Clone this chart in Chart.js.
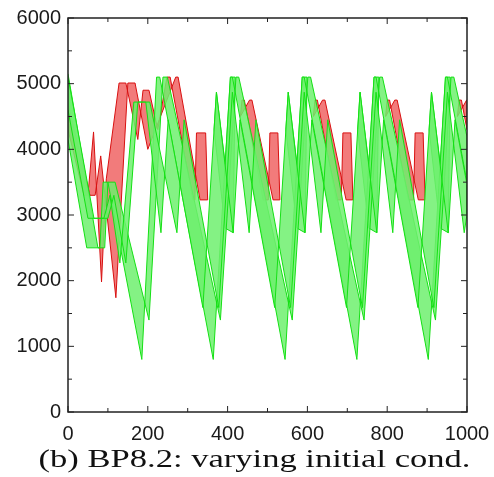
<!DOCTYPE html>
<html>
<head>
<meta charset="utf-8">
<script src="https://cdn.jsdelivr.net/npm/chart.js@4.4.1/dist/chart.umd.min.js"></script>
<style>
  body { margin: 0; background: #fff; }
  #wrap { position: relative; width: 494px; height: 477px; }
  #caption { position: absolute; left: 0; top: 446px; width: 508px; text-align: center;
             font: 26px "Liberation Serif", serif; line-height: 26px; color: #111; white-space: nowrap; }
  #caption span { display: inline-block; transform-origin: center; }
</style>
</head>
<body>
<div id="wrap">
  <canvas id="chart" width="494" height="477"></canvas>
  <div id="caption"><span>(b) BP8.2: varying initial cond.</span></div>
</div>
<script>
// axis ticks
var xTicks = [0, 200, 400, 600, 800, 1000];
var yTicks = [0, 1000, 2000, 3000, 4000, 5000, 6000];

// green: main band, edge A dips to ~800, edge B lags and dips to ~1400  ([time, value])
var greenMainA = [[0,4150],[47,2500],[80,2500],[88,3500],[100,3500],[185,800],[222,5100],[230,5100],[364,800],[407,5100],[412,5100],[544,800],[587,5100],[592,5100],[724,800],[767,5100],[772,5100],[903,800],[946,5100],[951,5100],[1000,3500]];
var greenMainB = [[0,5150],[75,2500],[92,2500],[100,3500],[118,3500],[203,1400],[238,5100],[249,5100],[382,1400],[421,5100],[428,5100],[562,1400],[601,5100],[608,5100],[742,1400],[781,5100],[788,5100],[921,1400],[960,5100],[967,5100],[1000,4190]];

// green: spiky band (peaks ~4870, dips ~2730 under the main peaks)
var greenSpikeA = [[0,4600],[50,2950],[90,2950],[105,3300],[130,2270],[165,4720],[195,4720],[233,2730],[251,4450],[338,1590],[372,4870],[414,2730],[431,4450],[518,1590],[552,4870],[594,2730],[611,4450],[698,1590],[732,4870],[774,2730],[791,4450],[877,1590],[911,4870],[953,2730],[970,4450],[1000,3460]];
var greenSpikeB = [[0,5100],[65,2950],[100,2950],[115,3300],[145,2270],[175,4720],[205,4720],[273,2730],[291,4450],[378,1590],[412,4870],[454,2730],[471,4450],[558,1590],[592,4870],[634,2730],[651,4450],[738,1590],[772,4870],[814,2730],[831,4450],[917,1590],[951,4870],[993,2730],[1000,3010]];

// green: region between each spike and the following peak, down to the ~2730 dip
var greenCap1A = [[366,4300],[372,4870],[394,3770],[407,5100],[419,5100]];
var greenCap1B = [[366,4300],[394,2800],[414,2730],[419,5100]];
var greenCap2A = [[546,4300],[552,4870],[574,3770],[587,5100],[599,5100]];
var greenCap2B = [[546,4300],[574,2800],[594,2730],[599,5100]];
var greenCap3A = [[726,4300],[732,4870],[754,3770],[767,5100],[779,5100]];
var greenCap3B = [[726,4300],[754,2800],[774,2730],[779,5100]];
var greenCap4A = [[905,4300],[911,4870],[933,3770],[946,5100],[958,5100]];
var greenCap4B = [[905,4300],[933,2800],[953,2730],[958,5100]];

// red band, visible pieces: start-up part, then plateau / fall / box for each cycle
var redStartA = [[0,4300],[40,3300],[50,3300],[64,4265],[84,1980],[96,3550],[128,5010],[145,5010],[175,4150],[188,4900],[203,4900],[225,4300],[248,5100],[256,5100],[313,3230],[318,3230],[322,4250],[345,4250],[350,3230]];
var redStartB = [[0,4700],[55,3300],[68,3300],[82,3900],[120,1740],[150,5010],[168,5010],[200,4000],[270,5100],[276,5100],[331,3230],[350,3230]];
var redCycle1A = [[432,4500],[436,4750],[442,4750],[489,3230],[502,3230],[506,4250],[526,4250],[531,3230]];
var redCycle1B = [[432,4500],[455,4750],[461,4750],[514,3230],[531,3230]];
var redCycle2A = [[615,4500],[619,4750],[625,4750],[672,3230],[685,3230],[689,4250],[709,4250],[714,3230]];
var redCycle2B = [[615,4500],[638,4750],[644,4750],[697,3230],[714,3230]];
var redCycle3A = [[796,4500],[800,4750],[806,4750],[853,3230],[866,3230],[870,4250],[890,4250],[895,3230]];
var redCycle3B = [[796,4500],[819,4750],[825,4750],[878,3230],[895,3230]];
var redCycle4A = [[976,4500],[980,4750],[986,4750],[1000,4300]];
var redCycle4B = [[976,4500],[999,4750],[1000,4750]];

var GREEN_FILL = 'rgba(110,240,110,0.85)';
var GREEN_LINE = '#14e014';
var RED_FILL = 'rgba(240,100,100,0.85)';
var RED_LINE = '#d81010';

// a band is drawn as one closed shape: edge A forward, edge B back
function band(edgeA, edgeB, fill, line, order) {
    var pts = edgeA.concat(edgeB.slice().reverse()).map(function (p) {
        return {x: p[0], y: p[1]};
    });
    return {
        data: pts,
        showLine: true,
        fill: 'shape',
        backgroundColor: fill,
        borderColor: line,
        borderWidth: 1,
        pointRadius: 0,
        tension: 0,
        order: order
    };
}

// frame with inward ticks on all four sides
var framePlugin = {
    id: 'frame',
    afterDraw: function (chart) {
        var ctx = chart.ctx, a = chart.chartArea, x = chart.scales.x, y = chart.scales.y;
        ctx.save();
        ctx.strokeStyle = '#222';
        ctx.lineWidth = 1.5;
        ctx.strokeRect(a.left, a.top, a.right - a.left, a.bottom - a.top);
        ctx.lineWidth = 1;
        ctx.beginPath();
        for (var v = 0; v <= 1000; v += 100) {
            var px = x.getPixelForValue(v), len = v % 200 ? 4 : 6;
            ctx.moveTo(px, a.bottom); ctx.lineTo(px, a.bottom - len);
            ctx.moveTo(px, a.top); ctx.lineTo(px, a.top + len);
        }
        for (var w = 0; w <= 6000; w += 500) {
            var py = y.getPixelForValue(w), l2 = w % 1000 ? 4 : 6;
            ctx.moveTo(a.left, py); ctx.lineTo(a.left + l2, py);
            ctx.moveTo(a.right, py); ctx.lineTo(a.right - l2, py);
        }
        ctx.stroke();
        ctx.restore();
    }
};

var tickFont = {family: '"Liberation Sans", Arial, sans-serif', size: 20};
var plain = function (v) { return String(v); };

new Chart(document.getElementById('chart'), {
    type: 'scatter',
    data: {
        datasets: [
            band(greenSpikeA, greenSpikeB, GREEN_FILL, GREEN_LINE, 0),
            band(greenMainA, greenMainB, GREEN_FILL, GREEN_LINE, 0),
            band(greenCap1A, greenCap1B, GREEN_FILL, GREEN_LINE, 0),
            band(greenCap2A, greenCap2B, GREEN_FILL, GREEN_LINE, 0),
            band(greenCap3A, greenCap3B, GREEN_FILL, GREEN_LINE, 0),
            band(greenCap4A, greenCap4B, GREEN_FILL, GREEN_LINE, 0),
            band(redStartA, redStartB, RED_FILL, RED_LINE, 1),
            band(redCycle1A, redCycle1B, RED_FILL, RED_LINE, 1),
            band(redCycle2A, redCycle2B, RED_FILL, RED_LINE, 1),
            band(redCycle3A, redCycle3B, RED_FILL, RED_LINE, 1),
            band(redCycle4A, redCycle4B, RED_FILL, RED_LINE, 1)
        ]
    },
    options: {
        responsive: false,
        animation: false,
        devicePixelRatio: 1,
        layout: {padding: {top: 18, right: 27, left: 0, bottom: 20}},
        plugins: {legend: {display: false}, tooltip: {enabled: false}},
        scales: {
            x: {
                type: 'linear', min: 0, max: 1000,
                afterBuildTicks: function (s) { s.ticks = xTicks.map(function (v) { return {value: v}; }); },
                afterFit: function (s) { s.height = 45; s.paddingLeft = 0; s.paddingRight = 0; },
                grid: {display: false, drawTicks: false}, border: {display: false},
                ticks: {font: tickFont, color: '#1a1a1a', padding: 10, maxRotation: 0, callback: plain}
            },
            y: {
                type: 'linear', min: 0, max: 6000,
                afterBuildTicks: function (s) { s.ticks = yTicks.map(function (v) { return {value: v}; }); },
                afterFit: function (s) { s.width = 68; s.paddingTop = 0; s.paddingBottom = 0; },
                grid: {display: false, drawTicks: false}, border: {display: false},
                ticks: {font: tickFont, color: '#1a1a1a', padding: 7, callback: plain}
            }
        }
    },
    plugins: [framePlugin]
});

// stretch the caption to the width it has in the figure
var cap = document.querySelector('#caption span');
var capW = cap.getBoundingClientRect().width;
cap.style.transform = 'scaleX(' + (432 / capW) + ')';
</script>
</body>
</html>
